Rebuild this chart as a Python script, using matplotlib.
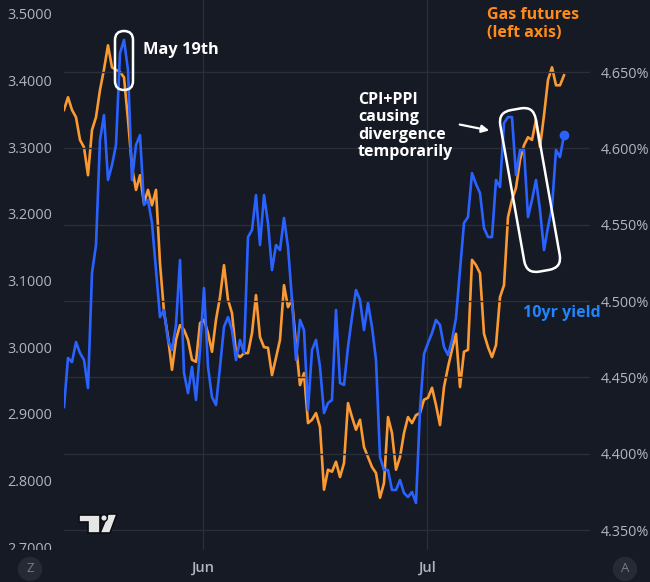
import numpy as np
import matplotlib
matplotlib.use("Agg")
import matplotlib.pyplot as plt
import matplotlib.transforms as mtransforms
from matplotlib.patches import FancyBboxPatch, FancyArrowPatch, Circle, Polygon

# ---------------- data ----------------
gas_futures = [
    3.356, 3.375, 3.356, 3.345, 3.311, 3.300, 3.258, 3.326, 3.345, 3.386,
    3.417, 3.453, 3.420, 3.416, 3.413, 3.405, 3.341, 3.270, 3.236, 3.258,
    3.216, 3.236, 3.213, 3.236, 3.126, 3.053, 3.015, 2.966, 3.011, 3.033,
    3.026, 3.011, 2.981, 2.978, 3.036, 3.041, 3.021, 2.993, 3.041, 3.075,
    3.123, 3.071, 3.051, 2.991, 2.985, 2.991, 2.991, 3.021, 3.078, 3.015,
    3.000, 2.999, 2.958, 2.984, 3.011, 3.093, 3.060, 3.071, 3.003, 2.943,
    2.961, 2.886, 2.891, 2.901, 2.880, 2.786, 2.816, 2.813, 2.828, 2.805,
    2.826, 2.916, 2.895, 2.876, 2.891, 2.850, 2.835, 2.820, 2.811, 2.774,
    2.796, 2.895, 2.871, 2.816, 2.835, 2.871, 2.895, 2.886, 2.898, 2.901,
    2.921, 2.924, 2.939, 2.913, 2.883, 2.940, 2.970, 2.996, 3.020, 2.940,
    2.993, 2.996, 3.131, 3.123, 3.111, 3.020, 3.000, 2.985, 3.003, 3.075,
    3.093, 3.195, 3.221, 3.239, 3.281, 3.303, 3.315, 3.311, 3.341, 3.300,
    3.348, 3.401, 3.420, 3.393, 3.393, 3.408,
]
yield_10yr = [
    4.4306, 4.4627, 4.4600, 4.4731, 4.4659, 4.4614, 4.4430, 4.5183, 4.5367, 4.6055,
    4.6218, 4.5793, 4.5891, 4.6022, 4.6624, 4.6710, 4.6513, 4.5793, 4.6022, 4.6087,
    4.5629, 4.5662, 4.5511, 4.5203, 4.4895, 4.4941, 4.4745, 4.4679, 4.4843, 4.5269,
    4.4528, 4.4397, 4.4568, 4.4352, 4.4679, 4.5085, 4.4568, 4.4371, 4.4319, 4.4568,
    4.4830, 4.4895, 4.4810, 4.4614, 4.4745, 4.4659, 4.5419, 4.5465, 4.5694, 4.5367,
    4.5694, 4.5511, 4.5203, 4.5367, 4.5334, 4.5544, 4.5354, 4.5007, 4.4614, 4.4876,
    4.4810, 4.4286, 4.4679, 4.4745, 4.4568, 4.4266, 4.4332, 4.4352, 4.4941, 4.4463,
    4.4450, 4.4699, 4.4895, 4.5072, 4.5007, 4.4810, 4.4987, 4.4830, 4.4614, 4.3978,
    4.3893, 4.3893, 4.3762, 4.3762, 4.3828, 4.3742, 4.3716, 4.3749, 4.3677, 4.4286,
    4.4653, 4.4725, 4.4790, 4.4876, 4.4843, 4.4699, 4.4646, 4.4745, 4.4889, 4.5203,
    4.5511, 4.5550, 4.5838, 4.5766, 4.5707, 4.5478, 4.5419, 4.5419, 4.5793, 4.5747,
    4.6166, 4.6205, 4.6205, 4.5825, 4.5989, 4.5989, 4.5550, 4.5662, 4.5793, 4.5596,
    4.5334, 4.5485, 4.5616, 4.5989, 4.5943, 4.6087,
]
month_ticks = [34.75, 90.75]
month_labels = ["Jun", "Jul"]
left_ticks = [2.7, 2.8, 2.9, 3.0, 3.1, 3.2, 3.3, 3.4, 3.5]
right_ticks = [4.35, 4.40, 4.45, 4.50, 4.55, 4.60, 4.65]

# ---------------- style ----------------
BG = "#161a25"
GRID = "#2a2e39"
TICK = "#b2b5be"
ORANGE = "#fb9a32"
BLUE = "#2962ff"
FONT = "Open Sans"

W, H = 650, 582
fig = plt.figure(figsize=(W / 100, H / 100), dpi=100, facecolor=BG)
ax = fig.add_axes([64 / W, 32 / H, 526 / W, 550 / H])
ax.set_facecolor(BG)
ax2 = ax.twinx()

x = np.arange(len(gas_futures))

ax.set_xlim(0, 131.5)
ax.set_ylim(2.6955, 3.521)
ax2.set_ylim(4.3369, 4.6972)

for a in (ax, ax2):
    for s in a.spines.values():
        s.set_visible(False)

# grid: horizontal lines from the right axis, vertical at month starts
ax2.set_yticks(right_ticks)
ax2.set_yticklabels([f"{v:.3f}%" for v in right_ticks])
ax2.grid(axis="y", color=GRID, lw=1)
ax.set_xticks(month_ticks)
ax.set_xticklabels(month_labels)
ax.grid(axis="x", color=GRID, lw=1)
ax.set_yticks(left_ticks)
ax.set_yticklabels([f"{v:.4f}" for v in left_ticks])
ax.set_axisbelow(True)
ax2.set_axisbelow(True)

ax.tick_params(axis="y", length=0, pad=8.6, labelsize=10.4, labelcolor=TICK)
ax2.tick_params(axis="y", length=0, pad=8, labelsize=10.4, labelcolor=TICK)
ax.tick_params(axis="x", length=0, pad=8, labelsize=10.5, labelcolor=TICK)
for lab in ax.get_yticklabels() + ax2.get_yticklabels() + ax.get_xticklabels():
    lab.set_fontfamily(FONT)
for lab in ax.get_xticklabels():
    lab.set_fontweight("semibold")

# clip the y tick labels to the chart pane (cuts the 2.7000 label)
clip = mtransforms.TransformedBbox(mtransforms.Bbox.from_extents(0, 32 / H, 1, 1), fig.transFigure)
for t in ax.yaxis.get_major_ticks() + ax2.yaxis.get_major_ticks():
    t.label1.set_clip_box(clip)
    t.label1.set_clip_on(True)
    t.label2.set_clip_box(clip)
    t.label2.set_clip_on(True)

# partially visible top label on the right scale (cut by the top edge, as in the source)
fig.text(601 / W, (H + 4) / H, "4.700%", color=TICK, fontsize=10.4, family=FONT,
         ha="left", va="center")

# series
ax.plot(x, gas_futures, color=ORANGE, lw=1.9, solid_joinstyle="round")
ax2.plot(x, yield_10yr, color=BLUE, lw=1.9, solid_joinstyle="round")
ax2.plot(x[-1], yield_10yr[-1], "o", color=BLUE, ms=6)

# pixel transform (origin top-left of the image)
PX = mtransforms.Affine2D().scale(1 / W, -1 / H).translate(0, 1) + fig.transFigure

# annotations
fig.text(143 / W, 1 - 50 / H, "May 19th", color="white", fontsize=11.8, weight="bold",
         family=FONT, ha="left", va="center")
pill = FancyBboxPatch((115, 31), 18, 59, boxstyle="round,pad=0,rounding_size=9",
                      transform=PX, fill=False, ec="white", lw=1.8, zorder=20)
fig.patches.append(pill)

fig.text(487 / W, 1 - 7 / H, "Gas futures\n(left axis)", color="#ff8c1a", fontsize=11.5,
         weight="bold", family=FONT, ha="left", va="top", linespacing=1.15)
fig.text(358 / W, 1 - 126 / H, "CPI+PPI\ncausing\ndivergence\ntemporarily", color="white",
         fontsize=11.5, weight="bold", family=FONT, ha="left", va="center", linespacing=1.13)
fig.text(523 / W, 1 - 313 / H, "10yr yield", color="#1f86ff", fontsize=11.5,
         weight="bold", family=FONT, ha="left", va="center")

arrow = FancyArrowPatch((457, 124), (492, 131), transform=PX, arrowstyle="-|>",
                        mutation_scale=11, color="white", lw=1.6, zorder=20)
fig.patches.append(arrow)

# tilted rounded box around the divergence
box_tr = (mtransforms.Affine2D().rotate_deg(-10).translate(530, 190)) + PX
tilted = FancyBboxPatch((-18, -82), 36, 164, boxstyle="round,pad=0,rounding_size=13",
                        transform=box_tr, fill=False, ec="white", lw=1.8, zorder=20)
fig.patches.append(tilted)

# bottom bar circles
for cx, letter in ((30, "Z"), (625, "A")):
    fig.patches.append(Circle((cx, 569), 11.5, transform=PX, color="#262a35", zorder=5))
    fig.text(cx / W, 1 - 569 / H, letter, color="#787b86", fontsize=9.5, family=FONT,
             ha="center", va="center", zorder=6)

# TradingView style logo
logo_parts = [
    [(79, 515), (100, 515), (100, 533), (88, 533), (88, 522), (79, 522)],
    [(108, 514), (117, 514), (110, 533), (100, 533)],
]
for pts in logo_parts:
    fig.patches.append(Polygon(pts, closed=True, transform=PX, fc="#e6e6e6",
                               ec="#0b0d12", lw=1.2, zorder=6))
fig.patches.append(Circle((104, 518), 3.3, transform=PX, fc="#e6e6e6", ec="#0b0d12",
                          lw=1.0, zorder=6))

fig.savefig("out.png", dpi=100, facecolor=BG)
